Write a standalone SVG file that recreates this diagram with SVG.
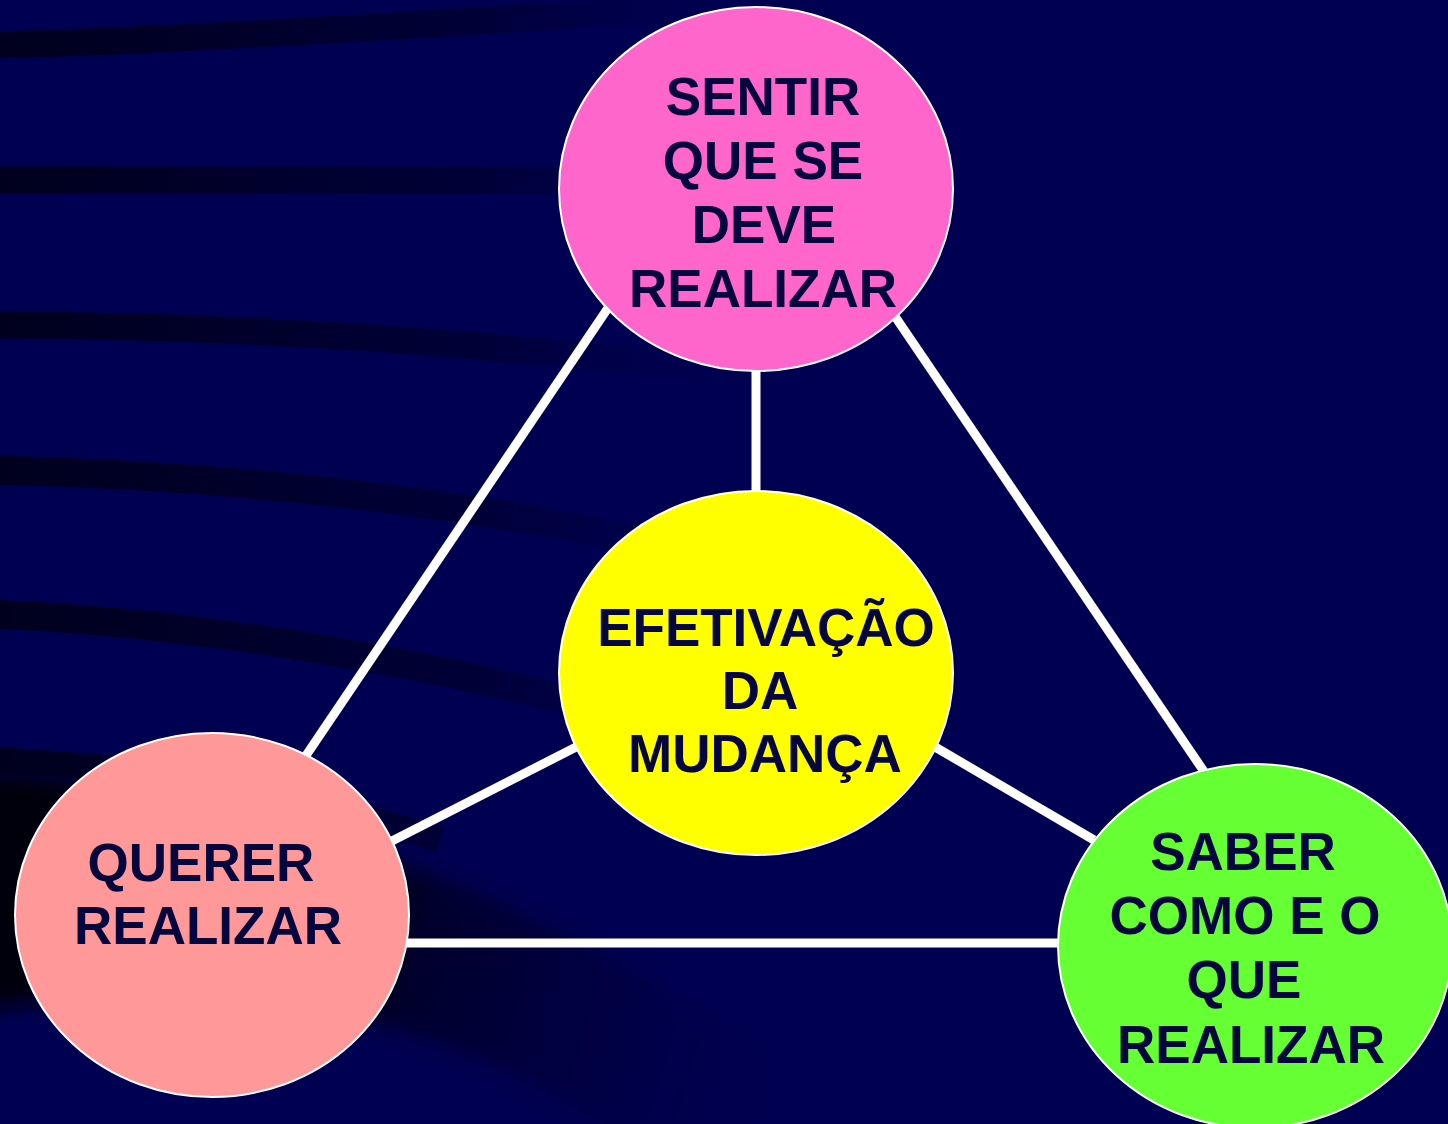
<svg xmlns="http://www.w3.org/2000/svg" width="1448" height="1124" viewBox="0 0 1448 1124">
  <defs>
    <linearGradient id="bandGrad" gradientUnits="userSpaceOnUse" x1="0" y1="0" x2="800" y2="0">
      <stop offset="0" stop-color="#00001e"/>
      <stop offset="0.6" stop-color="#000038"/>
      <stop offset="1" stop-color="#000052" stop-opacity="0"/>
    </linearGradient>
    <linearGradient id="swooshGrad" gradientUnits="userSpaceOnUse" x1="0" y1="820" x2="900" y2="1080">
      <stop offset="0" stop-color="#000008"/>
      <stop offset="0.45" stop-color="#000028"/>
      <stop offset="1" stop-color="#000052" stop-opacity="0"/>
    </linearGradient>
    <filter id="soft" x="-10%" y="-10%" width="120%" height="120%">
      <feGaussianBlur stdDeviation="10"/>
    </filter>
    <style>
      .band { fill: none; stroke: url(#bandGrad); }
      .conn { stroke: #ffffff; stroke-width: 9; fill: none; }
      .node { stroke: #ffffff; stroke-width: 2; }
      .lbl { font-family: "Liberation Sans", Arial, sans-serif; font-weight: bold; font-size: 53px; fill: #06063f; text-anchor: middle; }
    </style>
  </defs>

  <rect width="1448" height="1124" fill="#000052"/>
  <g id="background">
    <path fill="url(#swooshGrad)" filter="url(#soft)" d="M -20 770 C 250 785 560 890 900 1140 L 620 1140 C 450 1010 220 975 -20 1010 Z"/>
    <path class="band" stroke-width="27" d="M -10 45 C 200 40 450 22 720 6"/>
    <path class="band" stroke-width="27" d="M -10 180 L 620 180"/>
    <path class="band" stroke-width="27" d="M -10 325 C 250 325 500 343 780 378"/>
    <path class="band" stroke-width="29" d="M -10 470 C 200 474 450 498 660 545"/>
    <path class="band" stroke-width="29" d="M -10 614 C 200 622 420 662 620 712"/>
    <path class="band" stroke-width="26" d="M -10 760 C 150 766 300 794 440 840"/>
  </g>

  <g id="connectors">
    <line class="conn" x1="756" y1="360" x2="756" y2="500"/>
    <line class="conn" x1="610" y1="305" x2="303" y2="760"/>
    <line class="conn" x1="892" y1="312" x2="1205" y2="773"/>
    <line class="conn" x1="582" y1="744" x2="390" y2="842"/>
    <line class="conn" x1="930" y1="744" x2="1094" y2="840"/>
    <line class="conn" x1="400" y1="943" x2="1066" y2="943"/>
  </g>

  <g id="node-sentir">
    <ellipse class="node" cx="756" cy="189" rx="197" ry="182" fill="#ff66cc"/>
    <text class="lbl" x="763" y="115">SENTIR</text>
    <text class="lbl" x="763" y="179">QUE SE</text>
    <text class="lbl" x="764" y="243">DEVE</text>
    <text class="lbl" x="763" y="307">REALIZAR</text>
  </g>

  <g id="node-efetivacao">
    <ellipse class="node" cx="756" cy="673" rx="197" ry="182" fill="#ffff00"/>
    <text class="lbl" x="766" y="646">EFETIVAÇÃO</text>
    <text class="lbl" x="760" y="709">DA</text>
    <text class="lbl" x="765" y="772">MUDANÇA</text>
  </g>

  <g id="node-querer">
    <ellipse class="node" cx="212" cy="915" rx="197" ry="182" fill="#ff9999"/>
    <text class="lbl" x="201" y="881">QUERER</text>
    <text class="lbl" x="208" y="944">REALIZAR</text>
  </g>

  <g id="node-saber">
    <ellipse class="node" cx="1255" cy="946" rx="197" ry="182" fill="#66ff33"/>
    <text class="lbl" x="1243" y="870">SABER</text>
    <text class="lbl" x="1245" y="934">COMO E O</text>
    <text class="lbl" x="1244" y="998">QUE</text>
    <text class="lbl" x="1251" y="1063">REALIZAR</text>
  </g>
</svg>
